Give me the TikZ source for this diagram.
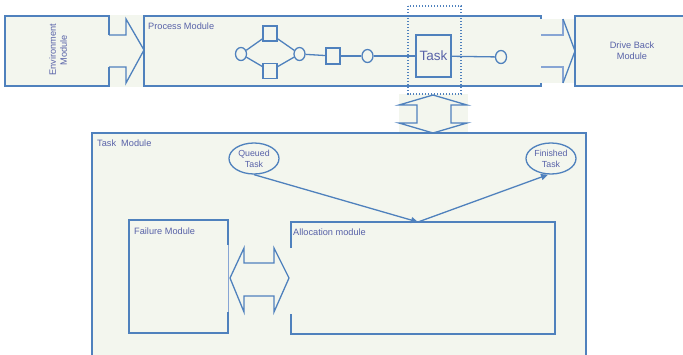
\documentclass[tikz,border=0pt]{standalone}
\usepackage{fontspec}
\setmainfont{Liberation Sans}
\usetikzlibrary{shapes.geometric,arrows.meta}
\definecolor{linec}{RGB}{79,129,189}
\definecolor{lightline}{RGB}{135,165,212}
\definecolor{fillc}{RGB}{243,246,238}
\definecolor{textc}{RGB}{88,98,168}
\tikzset{
  outl/.style={draw=linec,line width=1.3pt,line join=miter},
  lightl/.style={draw=lightline,line width=1.3pt},
  lbl/.style={text=textc,font=\fontsize{9.2}{11}\selectfont,inner sep=0pt},
  circ/.style={ellipse,draw=linec,line width=1.3pt,fill=fillc,minimum width=11pt,minimum height=13pt,inner sep=0pt},
  sq/.style={rectangle,draw=linec,line width=1.3pt,fill=fillc,minimum width=14pt,minimum height=15pt,inner sep=0pt},
  oval/.style={ellipse,draw=linec,line width=1.3pt,fill=fillc,minimum width=50pt,minimum height=31pt,inner sep=0pt,align=center,text=textc,font=\fontsize{8.8}{10.7}\selectfont},
  conn/.style={draw=linec,line width=1.3pt},
  flow/.style={draw=linec,line width=1.3pt,-{Triangle[length=7pt,width=6pt]}},
  dotbox/.style={draw=linec,line width=1.4pt,dash pattern=on 1.3pt off 1.7pt}
}
\begin{document}
\begin{tikzpicture}[x=1pt,y=-1pt]
\useasboundingbox (0,0) rectangle (683,354);
% background fills
\fill[fillc] (109,15) rectangle (144,87);
\fill[fillc] (541,19) rectangle (575,83);
\fill[fillc] (399,94) rectangle (468,133);
% Environment module
\fill[fillc] (5,16) rectangle (109,86);
\draw[outl] (109,35) -- (109,16) -- (5,16) -- (5,86) -- (109,86) -- (109,67);
\draw[outl] (109,35) -- (126,35) -- (126,19) -- (144,50) -- (126,83) -- (126,67) -- (109,67);
\node[lbl,rotate=90,align=center] (envtext) at (58,50) {Environment\\Module};
% Process module
\fill[fillc] (144,16) rectangle (541,86);
\draw[outl] (541,19) -- (541,16) -- (144,16) -- (144,86) -- (541,86) -- (541,83);
\node[lbl,anchor=west] (proctext) at (148,26) {Process Module};
% arrow to drive back
\draw[lightl] (541,35) -- (563,35) -- (563,19);
\draw[lightl] (541,67) -- (563,67) -- (563,83);
\draw[outl] (563,19) -- (575,51) -- (563,83);
% Drive back module
\fill[fillc] (575,16) rectangle (690,86);
\draw[outl] (690,16) -- (575,16) -- (575,86) -- (690,86);
\node[lbl,align=center] (drivetext) at (632,51) {Drive Back\\Module};
% process flow
\node[circ] (c1) at (241,54) {};
\node[sq] (s1) at (270,33.5) {};
\node[sq] (s2) at (270,71) {};
\node[circ] (c2) at (299.5,54) {};
\node[sq,minimum height=16pt] (s3) at (333,56) {};
\node[circ] (c3) at (367.5,56) {};
\node[rectangle,draw=linec,line width=1.3pt,fill=fillc,minimum width=35pt,minimum height=42pt,inner sep=0pt,text=textc,font=\fontsize{13.5}{15}\selectfont] (task) at (433.5,56) {Task};
\node[circ] (c4) at (501,57) {};
\draw[conn] (c1) -- (s1);
\draw[conn] (c1) -- (s2);
\draw[conn] (s1) -- (c2);
\draw[conn] (s2) -- (c2);
\draw[conn] (c2) -- (s3);
\draw[conn] (s3) -- (c3);
\draw[conn] (c3) -- (task);
\draw[conn] (task) -- (c4);
\draw[dotbox] (408,6) rectangle (461,94);
% vertical double arrow
\draw[outl] (433,95) -- (399,105) -- (417,105) -- (417,123) -- (399,123) -- (433,133) -- (467,123) -- (451,123) -- (451,105) -- (467,105) -- cycle;
% Task module
\fill[fillc] (92,133) rectangle (586,360);
\draw[outl] (92,360) -- (92,133) -- (586,133) -- (586,360);
\node[lbl,anchor=west] (tmtext) at (97,143) {Task\ \ Module};
\node[oval] (queued) at (254,158.5) {Queued\\Task};
\node[oval] (finished) at (551,158.5) {Finished\\Task};
% Failure module
\fill[fillc] (129,220) rectangle (228,333);
\draw[outl] (228,245) -- (228,220) -- (129,220) -- (129,333) -- (228,333) -- (228,312);
\draw[draw=lightline,line width=0.6pt] (228,245) -- (228,312);
\node[lbl,anchor=west] (failtext) at (134,231) {Failure Module};
% Allocation module
\fill[fillc] (291,222) rectangle (555,334);
\draw[outl] (291,248) -- (291,222) -- (555,222) -- (555,334) -- (291,334) -- (291,314);
\node[lbl,anchor=west] (alloctext) at (293,232) {Allocation module};
\coordinate (alloctop) at (418,222);
% horizontal double arrow
\draw[outl] (230,278) -- (244,248) -- (244,263) -- (274,263) -- (274,248) -- (289,278) -- (274,312) -- (274,296) -- (244,296) -- (244,312) -- cycle;
% connectors
\draw[flow] (queued.south) -- (alloctop);
\draw[flow] (alloctop) -- ([xshift=-3pt]finished.south);
\end{tikzpicture}
\end{document}
